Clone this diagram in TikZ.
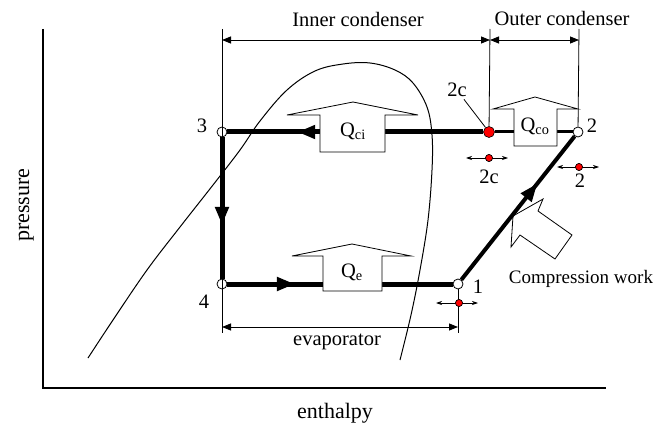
\documentclass[tikz,border=0pt]{standalone}
\usepackage{fontspec}
\setmainfont{Liberation Serif}
\usetikzlibrary{arrows.meta, decorations.markings}

\tikzset{
  cyc/.style={line width=5pt},
  state/.style={circle, draw, fill=white, inner sep=0pt, minimum size=10pt, line width=0.8pt},
  reddot/.style={circle, draw, fill=red, inner sep=0pt, minimum size=#1, line width=0.6pt},
  dim/.style={line width=0.8pt, {Triangle[length=9pt,width=7pt]}-{Triangle[length=9pt,width=7pt]}},
  small/.style={line width=0.7pt, {Stealth[length=6pt,width=4pt]}-{Stealth[length=6pt,width=4pt]}},
  heat/.style={draw, fill=white, line width=0.8pt},
  midarrow/.style={postaction={decorate}, decoration={markings,
      mark=at position #1 with {\arrow{Triangle[length=18pt,width=13pt]}}}},
  lbl/.style={font=\fontsize{20.5}{24}\selectfont, anchor=base, inner sep=0pt},
  axlbl/.style={font=\fontsize{22}{26}\selectfont, anchor=base, inner sep=0pt},
}

\begin{document}
\begin{tikzpicture}[x=1pt, y=-1pt]
    \useasboundingbox (0,0) rectangle (667,425);

    % Axes
    \draw[line width=1.2pt] (43,29) -- (43,388) -- (606,388);
    \node[axlbl, rotate=90] (ylab) at (29,205) {pressure};
    \node[axlbl] (xlab) at (335,418) {enthalpy};

    % Saturation dome
    \draw[line width=1pt] plot[smooth, tension=0.6] coordinates {(88,358) (113,320) (147,270)
        (180,227) (213,185) (240,150) (260,121) (287,90) (315,71) (343,64) (370,63)
        (395,70) (413,83) (427,107) (432,135) (432,170) (428,220) (420,270) (411,315)
        (400,360)};

    % State points
    \node[state] (p3) at (222,132) {};
    \node[state] (p4) at (222,284) {};
    \node[state] (p1) at (458,284) {};
    \node[state] (p2) at (578,132) {};
    \node[reddot=11pt] (p2c) at (489,132) {};

    % Extension lines
    \coordinate (t3) at (222,29);
    \coordinate (b4) at (222,333);
    \coordinate (t2c) at (490,29);
    \coordinate (t2) at (579,29);
    \coordinate (b1) at (458,333);
    \draw[line width=0.8pt] (t3) -- (b4);
    \draw[line width=0.8pt] (t2c) -- (p2c);
    \draw[line width=0.8pt] (t2) -- (p2);
    \draw[line width=0.8pt] (p1) -- (b1);

    % Dimension arrows
    \draw[dim] (222,40) -- (490,40);
    \draw[dim] (490,40) -- (579,40);
    \draw[dim] (222,327) -- (458,327);
    \node[lbl] (inner) at (358,27) {Inner condenser};
    \node[lbl] (outer) at (562,26) {Outer condenser};
    \node[lbl] (evap) at (337,345) {evaporator};

    % Compression work
    \draw[heat] (513,216) -- (543,199) -- (538,211) -- (572,235) -- (555,259)
        -- (520,235) -- (511,247) -- cycle;
    \node[font=\fontsize{19}{23}\selectfont, anchor=base, inner sep=0pt] (comp) at (581,283) {Compression work};

    % Cycle
    \draw[cyc, midarrow=0.727] (p2c) -- (p3);
    \draw[line width=3pt] (p2) -- (p2c);
    \draw[cyc, midarrow=0.62] (p3) -- (p4);
    \draw[cyc, midarrow=0.30] (p4) -- (p1);
    \draw[line width=4pt, midarrow=0.67] (p1) -- (p2);

    % Heat flows
    \draw[heat] (320,152) -- (320,115) -- (287,115) -- (353,102) -- (418,115)
        -- (385,115) -- (385,152) -- cycle;
    \node[font=\fontsize{20.5}{24}\selectfont] (qci) at (353,131) {Q\textsubscript{ci}};
    \draw[heat] (514,146) -- (514,109) -- (493,109) -- (535,97) -- (578,109)
        -- (557,109) -- (557,146) -- cycle;
    \node[font=\fontsize{20.5}{24}\selectfont] (qco) at (535,126) {Q\textsubscript{co}};
    \draw[heat] (323,291) -- (323,256) -- (292,256) -- (352,244) -- (411,256)
        -- (382,256) -- (382,291) -- cycle;
    \node[font=\fontsize{20.5}{24}\selectfont] (qe) at (352,272) {Q\textsubscript{e}};

    % Point labels
    \node[lbl] (n3) at (202,133) {3};
    \node[lbl] (n4) at (204,308) {4};
    \node[lbl] (n1) at (478,293) {1};
    \node[lbl] (n2) at (592,133) {2};
    \node[lbl, inner sep=2pt] (l2c) at (457,97) {2c};
    \draw[line width=0.8pt] (l2c) -- (p2c);

    % Superheat markers
    \node[reddot=7pt] (d2c) at (489,158) {};
    \draw[small] ([xshift=-23pt]d2c.center) -- ([xshift=19pt]d2c.center);
    \node[reddot=7pt] (d2c) at (489,158) {};
    \node[lbl] (m2c) at (489,183) {2c};
    \node[reddot=7pt] (d2) at (579,167) {};
    \draw[small] ([xshift=-22pt]d2.center) -- ([xshift=20pt]d2.center);
    \node[reddot=7pt] (d2) at (579,167) {};
    \node[lbl] (m2) at (580,188) {2};
    \node[reddot=7pt] (d1) at (459,303) {};
    \draw[small] ([xshift=-23pt]d1.center) -- ([xshift=19pt]d1.center);
    \node[reddot=7pt] (d1) at (459,303) {};
\end{tikzpicture}
\end{document}
